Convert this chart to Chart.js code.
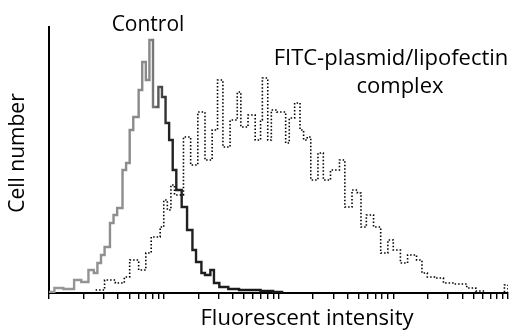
<!DOCTYPE html>
<html>
<head>
<meta charset="utf-8">
<script src="https://cdn.jsdelivr.net/npm/chart.js@4/dist/chart.umd.min.js"></script>
<style>
  html, body { margin: 0; padding: 0; background: #fff; }
  #wrap { width: 516px; height: 330px; position: relative; }
</style>
</head>
<body>
<div id="wrap"><canvas id="c" width="516" height="330"></canvas></div>
<script>
// Channel (0-256, 4-decade log display) and cell counts
const controlChannels = [0,3,8,14,18,22,25,27,29,31,34,36,38,41,43,45,47,50,52,54,56,58,61,63,65,67,69,71,74,77,80,82,85,87,90,92,95,100,106,112,118,125,130];
const controlCounts   = [1,5,4,13,11,23,20,30,38,46,70,78,85,123,130,163,176,203,231,213,253,186,206,196,170,153,123,103,86,63,43,31,20,18,23,10,6,4,3,3,2,1,0];

const fitcChannels = [26,31,37,42,45,50,54,57,62,64,66,68,70,75,79,83,87,91,94,97,101,105,107,111,115,118,119,122,124,127,132,134,137,140,142,144,146,150,153,157,162,165,169,172,174,177,181,185,189,192,196,200,205,208,211,215,220,226,233,238,243,253,254,256];
const fitcCounts   = [3,13,10,16,33,23,40,56,66,93,83,108,98,156,128,181,133,163,213,146,173,201,166,178,153,173,215,153,183,181,150,175,190,163,153,156,113,140,113,123,133,86,103,100,66,78,66,40,53,43,30,38,33,20,16,15,10,9,5,2,0,0,8,0];

const xMin = 0, xMax = 256, yMax = 266;
const decades = [0,1,2,3];
const mantissas = [1,2,3,4,5,6,7,8,9];

const labels = {
  control: 'Control',
  fitc1: 'FITC-plasmid/lipofectin',
  fitc2: 'complex',
  xTitle: 'Fluorescent intensity',
  yTitle: 'Cell number'
};

const FONT = '"Open Sans", "Liberation Sans", Arial, sans-serif';

const textPlugin = {
  id: 'annot',
  afterDraw(chart) {
    const ctx = chart.ctx;
    ctx.save();
    ctx.fillStyle = '#000';
    ctx.textAlign = 'center';
    ctx.textBaseline = 'alphabetic';
    ctx.font = '21px ' + FONT;
    ctx.fillText(labels.control, 148, 31);
    ctx.font = '22px ' + FONT;
    ctx.fillText(labels.fitc1, 391, 65);
    ctx.fillText(labels.fitc2, 400, 93);
    ctx.fillText(labels.xTitle, 307, 325);
    ctx.translate(24, 153);
    ctx.rotate(-Math.PI / 2);
    ctx.font = '21px ' + FONT;
    ctx.fillText(labels.yTitle, 0, 0);
    ctx.restore();
  }
};

const ctx = document.getElementById('c').getContext('2d');
new Chart(ctx, {
  type: 'line',
  data: {
    datasets: [
      {
        label: 'FITC',
        data: fitcChannels.map((x, i) => ({x, y: fitcCounts[i]})),
        borderColor: '#000',
        borderWidth: 1.6,
        borderDash: [1.5, 2],
        stepped: true,
        pointRadius: 0,
        fill: false
      },
      {
        label: 'Control',
        data: controlChannels.map((x, i) => ({x, y: controlCounts[i]})),
        borderColor: (c) => {
          const a = c.chart.chartArea;
          if (!a) return '#444';
          const g = c.chart.ctx.createLinearGradient(a.left, 0, a.right, 0);
          g.addColorStop(0, '#999');
          g.addColorStop(0.22, '#888');
          g.addColorStop(0.26, '#222');
          g.addColorStop(1, '#000');
          return g;
        },
        borderWidth: 2.4,
        stepped: true,
        pointRadius: 0,
        fill: false
      }
    ]
  },
  options: {
    responsive: false,
    animation: false,
    events: [],
    layout: { padding: { left: 0, right: 8, top: 27, bottom: 0 } },
    plugins: { legend: { display: false }, tooltip: { enabled: false } },
    scales: {
      x: {
        type: 'linear',
        min: xMin, max: xMax,
        afterBuildTicks: (s) => {
          const t = [];
          decades.forEach(d => mantissas.forEach(m => t.push({value: 64 * Math.log10(m * Math.pow(10, d))})));
          t.push({value: 256});
          s.ticks = t;
        },
        afterFit: (s) => { s.height = 37; },
        ticks: { callback: () => '', font: { size: 1 }, padding: 0 },
        grid: { display: true, drawOnChartArea: false, drawTicks: true, tickLength: 6, color: '#000', lineWidth: 1.4 },
        border: { display: true, color: '#000', width: 2 },
        title: { display: false }
      },
      y: {
        type: 'linear',
        min: 0, max: yMax,
        afterFit: (s) => { s.width = 49; },
        ticks: { display: false },
        grid: { display: false },
        border: { display: true, color: '#000', width: 2 },
        title: { display: false }
      }
    }
  },
  plugins: [textPlugin]
});
</script>
</body>
</html>
